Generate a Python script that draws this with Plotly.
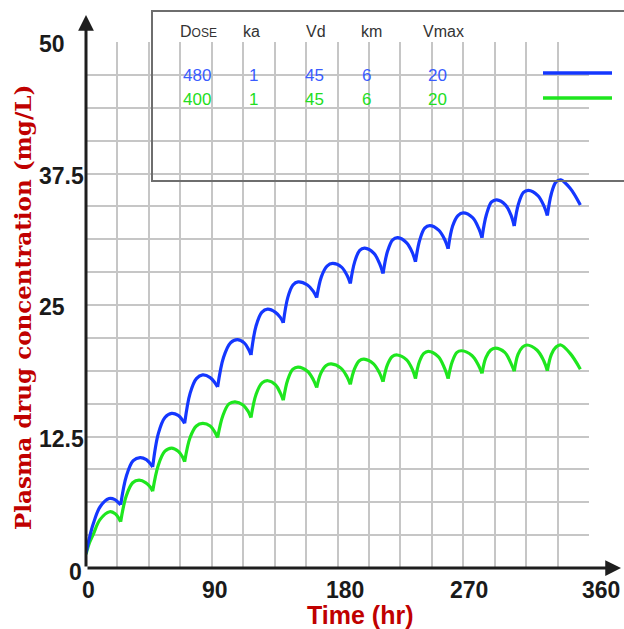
import plotly.graph_objects as go

# ---------------- data ----------------
dose_times = [24.8, 47.7, 70.6, 94.2, 118.1, 141.2, 165.1, 189.2, 212.6,
              235.8, 259.2, 283.4, 306.5, 330.2]

time_480 = [0, 2.5, 5.2, 10.0, 16.5, 20.7, 23.3, 24.8,
            29.0, 33.8, 38.7, 43.2, 46.1, 47.7,
            51.8, 56.5, 61.3, 66.0, 68.9, 70.6,
            74.5, 79.0, 83.5, 88.9, 92.3, 94.2,
            98.4, 103.4, 108.3, 113.2, 116.3, 118.1,
            121.7, 125.8, 130.0, 135.6, 139.2, 141.2,
            144.4, 148.1, 151.8, 158.5, 162.7, 165.1,
            168.5, 172.5, 176.5, 182.9, 186.9, 189.2,
            192.3, 195.9, 199.5, 206.1, 210.2, 212.6,
            215.8, 219.5, 223.2, 229.5, 233.5, 235.8,
            238.9, 242.4, 246.0, 252.6, 256.8, 259.2,
            262.4, 266.2, 270.0, 276.7, 281.0, 283.4,
            286.6, 290.3, 294.0, 300.3, 304.3, 306.5,
            309.5, 313.1, 316.6, 323.4, 327.8, 330.2,
            333.1, 336.4, 339.8, 346.5, 353.8]
conc_480 = [1.4, 2.9, 4.2, 5.8, 6.6, 6.5, 6.2, 6.0,
            8.8, 10.2, 10.5, 10.3, 9.9, 9.6,
            12.8, 14.3, 14.7, 14.5, 14.1, 13.75,
            16.6, 18.0, 18.35, 18.1, 17.6, 17.2,
            20.0, 21.4, 21.7, 21.4, 20.8, 20.25,
            23.0, 24.3, 24.6, 24.3, 23.8, 23.3,
            25.7, 26.9, 27.2, 26.9, 26.3, 25.7,
            27.7, 28.7, 28.95, 28.6, 27.8, 27.05,
            29.1, 30.2, 30.4, 29.9, 28.9, 28.0,
            30.1, 31.2, 31.4, 30.9, 30.0, 29.1,
            31.2, 32.3, 32.55, 32.1, 31.2, 30.35,
            32.5, 33.5, 33.75, 33.3, 32.3, 31.4,
            33.6, 34.8, 35.0, 34.5, 33.5, 32.5,
            34.6, 35.7, 35.9, 35.4, 34.4, 33.5,
            35.6, 36.7, 36.9, 36.1, 34.5]

time_400 = [0, 2.5, 5.2, 10.0, 17.0, 20.9, 23.4, 24.8,
            28.8, 33.4, 38.0, 42.9, 46.0, 47.7,
            51.8, 56.5, 61.3, 66.0, 68.9, 70.6,
            74.5, 79.0, 83.5, 88.9, 92.3, 94.2,
            98.0, 102.3, 106.7, 112.4, 116.0, 118.1,
            121.7, 126.0, 130.2, 135.7, 139.2, 141.2,
            144.4, 148.1, 151.8, 158.5, 162.7, 165.1,
            168.2, 171.9, 175.5, 182.4, 186.7, 189.2,
            192.1, 195.6, 199.0, 205.8, 210.2, 212.6,
            215.7, 219.2, 222.8, 229.3, 233.5, 235.8,
            238.6, 241.8, 245.0, 252.1, 256.6, 259.2,
            262.1, 265.5, 268.9, 276.2, 280.8, 283.4,
            286.2, 289.5, 292.8, 299.7, 304.0, 306.5,
            309.2, 312.4, 315.5, 322.9, 327.6, 330.2,
            333.1, 336.4, 339.8, 346.5, 353.8]
conc_400 = [1.3, 2.4, 3.2, 4.6, 5.35, 5.15, 4.75, 4.4,
            6.85, 8.1, 8.35, 8.1, 7.7, 7.3,
            9.8, 11.1, 11.4, 11.1, 10.6, 10.1,
            12.4, 13.5, 13.75, 13.5, 12.9, 12.4,
            14.5, 15.6, 15.8, 15.5, 14.9, 14.3,
            16.5, 17.6, 17.8, 17.4, 16.6, 15.95,
            17.9, 18.9, 19.1, 18.7, 17.9, 17.15,
            18.55, 19.25, 19.4, 19.0, 18.2, 17.45,
            18.9, 19.7, 19.85, 19.4, 18.5, 17.7,
            19.3, 20.1, 20.25, 19.8, 18.9, 18.0,
            19.6, 20.4, 20.6, 20.1, 19.0, 18.0,
            19.6, 20.5, 20.65, 20.2, 19.3, 18.5,
            20.0, 20.7, 20.9, 20.5, 19.5, 18.7,
            20.3, 21.0, 21.2, 20.7, 19.7, 18.75,
            20.3, 21.0, 21.2, 20.4, 18.9]

legend_header = ["D<span style='font-size:12px'>OSE</span>", "ka", "Vd", "km", "Vmax"]
params_480 = ["480", "1", "45", "6", "20"]
params_400 = ["400", "1", "45", "6", "20"]

x_tick_vals = [0, 90, 180, 270, 360]
x_tick_labels = ["0", "90", "180", "270", "360"]
y_tick_vals = [0, 12.5, 25, 37.5, 50]
y_tick_labels = ["0", "12.5", "25", "37.5", "50"]

x_title = "Time (hr)"
y_title = "Plasma drug concentration (mg/L)"

# ---------------- styling ----------------
W, H = 624, 629
L, R, T, B = 86, 35, 42, 61
PW, PH = W - L - R, H - T - B

BLUE = "#1437ff"
GREEN = "#1ee61e"
BLUE_TXT = "#3a5cff"
GREEN_TXT = "#22dd22"
RED = "#c00000"
AXIS = "#1e1e1e"
GRID = "#c6c6c6"
BOLDSANS = "Liberation Sans, Arial, Helvetica, sans-serif"
SANS = "Liberation Sans, Arial, Helvetica, sans-serif"
SERIF = "DejaVu Serif, Liberation Serif, serif"


def pxx(x):
    return (x - L) / PW


def pxy(y):
    return (H - B - y) / PH


def segments(ts, cs, cuts):
    """split a series into dose-interval pieces (trough point shared)"""
    xs, ys = [], []
    cutset = set(cuts)
    for t, c in zip(ts, cs):
        xs.append(t)
        ys.append(c)
        if t in cutset:
            xs += [None, t]
            ys += [None, c]
    return xs, ys


fig = go.Figure()
for ts, cs, col in [(time_400, conc_400, GREEN), (time_480, conc_480, BLUE)]:
    xs, ys = segments(ts, cs, dose_times)
    fig.add_trace(go.Scatter(x=xs, y=ys, mode="lines",
                             line=dict(color=col, width=3.2, shape="spline", smoothing=1.0),
                             connectgaps=False, showlegend=False, hoverinfo="skip"))

fig.update_layout(
    width=W, height=H,
    margin=dict(l=L, r=R, t=T, b=B, pad=0),
    paper_bgcolor="white", plot_bgcolor="white",
    showlegend=False,
    xaxis=dict(range=[0, 360], tickmode="linear", tick0=0, dtick=22.5,
               showticklabels=False, ticks="", showgrid=True, gridcolor=GRID,
               gridwidth=2, zeroline=False, showline=False, fixedrange=True),
    yaxis=dict(range=[0, 50], tickmode="linear", tick0=0, dtick=3.125,
               showticklabels=False, ticks="", showgrid=True, gridcolor=GRID,
               gridwidth=2, zeroline=False, showline=False, fixedrange=True),
)

ann = []
# axis lines with arrows
ann.append(dict(x=pxx(621), y=0, xref="paper", yref="paper", ax=-(621 - L), ay=0,
                axref="pixel", ayref="pixel", text="", showarrow=True,
                arrowhead=2, arrowsize=1.05, arrowwidth=3, arrowcolor=AXIS, standoff=0))
ann.append(dict(x=0, y=pxy(15), xref="paper", yref="paper", ax=0, ay=(H - B) - 15,
                axref="pixel", ayref="pixel", text="", showarrow=True,
                arrowhead=2, arrowsize=1.05, arrowwidth=3, arrowcolor=AXIS, standoff=0))

TICKFONT = dict(family=BOLDSANS, size=23, color="#1a1a1a")
# x tick labels
x_shift = [2, 3, 7, 6, 12]
for v, lab, s in zip(x_tick_vals, x_tick_labels, x_shift):
    ann.append(dict(x=v, y=0, xref="x", yref="paper", text="<b>" + lab + "</b>",
                    showarrow=False, xanchor="center", yanchor="middle",
                    xshift=s, yshift=-22, font=TICKFONT))
# y tick labels
for v, lab in zip(y_tick_vals, y_tick_labels):
    if v == 0:
        ann.append(dict(x=pxx(84), y=v, xref="paper", yref="y", text="<b>" + lab + "</b>",
                        showarrow=False, xanchor="right", yanchor="middle", yshift=-4,
                        font=TICKFONT))
    else:
        ann.append(dict(x=pxx(37), y=v, xref="paper", yref="y", text="<b>" + lab + "</b>",
                        showarrow=False, xanchor="left", yanchor="middle", yshift=-2,
                        font=TICKFONT))

# axis titles
ann.append(dict(x=pxx(360), y=pxy(615), xref="paper", yref="paper",
                text="<b>" + x_title + "</b>", showarrow=False,
                xanchor="center", yanchor="middle",
                font=dict(family=BOLDSANS, size=25, color=RED)))
ann.append(dict(x=pxx(22), y=pxy(308), xref="paper", yref="paper",
                text="<b>" + y_title + "</b>", showarrow=False, textangle=-90,
                xanchor="center", yanchor="middle",
                font=dict(family=SERIF, size=23, color=RED)))

# legend box contents
col_hdr = [198, 251, 316, 371, 443]
col_val = [197, 253, 314, 366, 437]
for x, txt in zip(col_hdr, legend_header):
    ann.append(dict(x=pxx(x), y=pxy(32), xref="paper", yref="paper", text=txt,
                    showarrow=False, xanchor="center", yanchor="middle",
                    font=dict(family=SANS, size=16, color="#333333")))
for row_y, vals, col in [(75, params_480, BLUE_TXT), (99, params_400, GREEN_TXT)]:
    for x, txt in zip(col_val, vals):
        ann.append(dict(x=pxx(x), y=pxy(row_y), xref="paper", yref="paper", text=txt,
                        showarrow=False, xanchor="center", yanchor="middle",
                        font=dict(family=SANS, size=17, color=col)))
fig.update_layout(annotations=ann)

shapes = [
    dict(type="rect", xref="paper", yref="paper", x0=pxx(152), x1=pxx(640),
         y0=pxy(181), y1=pxy(11), line=dict(color="#6e6e6e", width=2),
         fillcolor="rgba(0,0,0,0)", layer="above"),
    dict(type="line", xref="paper", yref="paper", x0=pxx(543), x1=pxx(612),
         y0=pxy(73), y1=pxy(73), line=dict(color=BLUE, width=3.5)),
    dict(type="line", xref="paper", yref="paper", x0=pxx(543), x1=pxx(612),
         y0=pxy(98), y1=pxy(98), line=dict(color=GREEN, width=3.5)),
]
fig.update_layout(shapes=shapes)

fig.write_html("out.html",
               config={"displayModeBar": False, "staticPlot": True},
               post_script="document.body.style.margin='0';document.body.style.padding='0';")
